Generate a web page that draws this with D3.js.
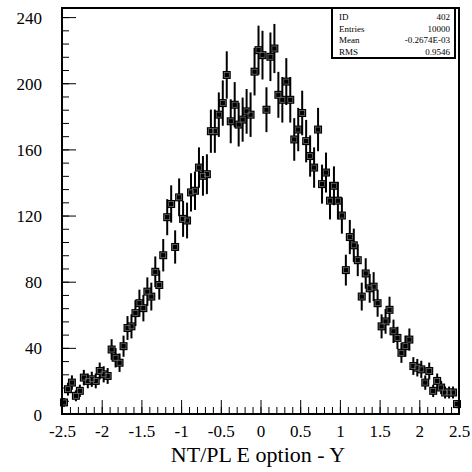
<!DOCTYPE html>
<html>
<head>
<meta charset="utf-8">
<script src="https://cdn.jsdelivr.net/npm/d3@7"></script>
<style>
html,body{margin:0;padding:0;background:#fff;}
svg{display:block;}
svg text{font-family:'Liberation Serif','Times New Roman','DejaVu Serif',serif !important;fill:#000;}
</style>
</head>
<body>
<svg id="chart" width="472" height="472"></svg>
<script>
// Histogram: 100 bins from -2.5 to 2.5 (bin width 0.05)
const xMin = -2.5, xMax = 2.5, nBins = 100;
const counts = [
  7, 15, 19, 11, 14, 22, 20, 21, 20, 26,
  24, 23, 39, 34, 31, 41, 52, 53, 61, 67,
  64, 74, 71, 86, 78, 96, 119, 127, 101, 131,
  118, 117, 134, 135, 149, 144, 145, 171, 171, 181,
  188, 205, 177, 187, 175, 178, 183, 181, 207, 220,
  217, 184, 216, 221, 193, 190, 201, 190, 166, 172,
  182, 165, 156, 149, 172, 139, 146, 129, 138, 129,
  120, 87, 107, 102, 93, 71, 85, 76, 77, 67,
  53, 56, 63, 50, 46, 37, 41, 45, 29, 28,
  27, 19, 26, 14, 20, 16, 13, 13, 13, 6
];
const xTickValues = [-2.5, -2, -1.5, -1, -0.5, 0, 0.5, 1, 1.5, 2, 2.5];
const xTickLabels = ["-2.5", "-2", "-1.5", "-1", "-0.5", "0", "0.5", "1", "1.5", "2", "2.5"];
const yTickValues = [0, 40, 80, 120, 160, 200, 240];
const yTickLabels = ["0", "40", "80", "120", "160", "200", "240"];
const yMaxDomain = 245.5;
const xTitle = "NT/PL E option - Y";
const statLabels = ["ID", "Entries", "Mean", "RMS"];
const statValues = ["402", "10000", "-0.2674E-03", "0.9546"];

const FONT = "'Liberation Serif','Times New Roman','DejaVu Serif',serif";
const svg = d3.select("#chart");
const L = 62, R = 459, T = 8, B = 414;
const x = d3.scaleLinear().domain([xMin, xMax]).range([L, R]);
const y = d3.scaleLinear().domain([0, yMaxDomain]).range([B, T]);
const binW = (xMax - xMin) / nBins;

// minor ticks
const xMinor = d3.range(0, 51).map(i => xMin + i * 0.1);
const yMinor = d3.range(0, 31).map(i => i * 8).filter(v => v <= yMaxDomain);

const gxMinor = svg.append("g").attr("transform", `translate(0,${B})`)
  .call(d3.axisBottom(x).tickValues(xMinor).tickSize(-7).tickFormat(""));
gxMinor.select(".domain").remove();
const gx = svg.append("g").attr("transform", `translate(0,${B})`)
  .call(d3.axisBottom(x).tickValues(xTickValues).tickSize(-14)
    .tickFormat((d, i) => xTickLabels[i]));
gx.select(".domain").remove();
gx.attr("font-family", FONT).attr("font-size", 17);
gx.selectAll("text").attr("y", 11).attr("dy", "0.71em");

const gyMinor = svg.append("g").attr("transform", `translate(${L},0)`)
  .call(d3.axisLeft(y).tickValues(yMinor).tickSize(-7).tickFormat(""));
gyMinor.select(".domain").remove();
const gy = svg.append("g").attr("transform", `translate(${L},0)`)
  .call(d3.axisLeft(y).tickValues(yTickValues).tickSize(-14)
    .tickFormat((d, i) => yTickLabels[i]));
gy.select(".domain").remove();
gy.attr("font-family", FONT).attr("font-size", 17);
gy.selectAll("text").attr("x", -20).attr("dy", "0.36em");
svg.selectAll(".tick line").attr("stroke", "#000").attr("stroke-width", 1);

// data marks
const data = counts.map((c, i) => ({ xc: xMin + (i + 0.5) * binW, v: c, e: Math.sqrt(c) }));
const g = svg.append("g");
g.selectAll("line.err").data(data).join("line").attr("class", "err")
  .attr("x1", d => x(d.xc)).attr("x2", d => x(d.xc))
  .attr("y1", d => y(Math.max(0, d.v - d.e))).attr("y2", d => y(d.v + d.e))
  .attr("stroke", "#000").attr("stroke-width", 2);
const ms = 8;
g.selectAll("rect.mk").data(data).join("rect").attr("class", "mk")
  .attr("x", d => x(d.xc) - ms / 2).attr("y", d => y(d.v) - ms / 2)
  .attr("width", ms).attr("height", ms).attr("fill", "#000");
g.selectAll("rect.mki").data(data).join("rect").attr("class", "mki")
  .attr("x", d => x(d.xc) - 2.5).attr("y", d => y(d.v) - 2.5)
  .attr("width", 5).attr("height", 5).attr("fill", "none")
  .attr("stroke", "#777").attr("stroke-width", 0.7);

// frame
svg.append("rect").attr("x", L).attr("y", T).attr("width", R - L).attr("height", B - T)
  .attr("fill", "none").attr("stroke", "#000").attr("stroke-width", 2);

// x title
svg.append("text").attr("x", 258).attr("y", 462).attr("text-anchor", "middle")
  .attr("font-family", FONT).attr("font-size", 22).text(xTitle);

// stats box
const bx = 332, by = T, bw = 123, bh = 50;
svg.append("rect").attr("x", bx).attr("y", by).attr("width", bw).attr("height", bh)
  .attr("fill", "#fff").attr("stroke", "#000").attr("stroke-width", 2);
const rowY = [17, 28.5, 40, 51.5];
statLabels.forEach((s, i) => {
  svg.append("text").attr("x", bx + 7).attr("y", rowY[i] + 3)
    .attr("font-family", FONT).attr("font-size", 9).text(s);
  svg.append("text").attr("x", bx + bw - 5).attr("y", rowY[i] + 3).attr("text-anchor", "end")
    .attr("font-family", FONT).attr("font-size", 9).text(statValues[i]);
});
</script>
</body>
</html>
